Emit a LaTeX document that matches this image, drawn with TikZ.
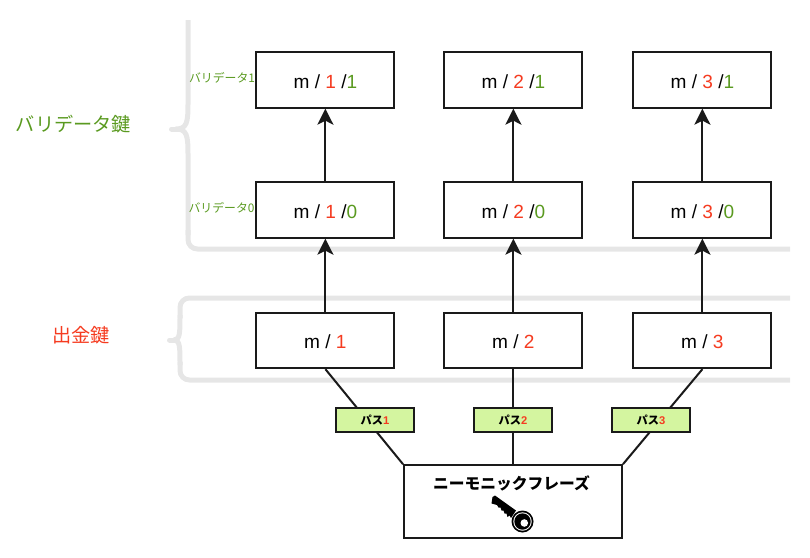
\documentclass[tikz,border=0pt]{standalone}
\usepackage{fontspec}
\setmainfont{Liberation Sans}
\newfontfamily\cjk{Noto Sans CJK JP}
\usetikzlibrary{arrows.meta}

\definecolor{keyred}{HTML}{F53B20}
\definecolor{keygreen}{HTML}{5A9A20}
\definecolor{passfill}{HTML}{D4F5A0}
\definecolor{bracegray}{HTML}{E6E6E6}
\definecolor{linedark}{HTML}{1A1A1A}

\tikzset{
	keybox/.style={draw=linedark,line width=1.5pt,fill=white,inner sep=0pt,
		minimum width=103.5pt,minimum height=41.5pt,text height=12.2pt,text depth=0pt,font=\fontsize{14.3}{16}\selectfont},
	passbox/.style={draw=linedark,line width=1.5pt,fill=passfill,inner sep=0pt,
		minimum width=59pt,minimum height=17.5pt,font=\fontsize{8.4}{10}\selectfont\bfseries},
	bracket/.style={draw=bracegray,line width=3.75pt,rounded corners=7pt,line join=round},
	link/.style={draw=linedark,line width=1.5pt},
	keyarrow/.style={link,-{Stealth[length=12pt,width=12pt,inset=3pt]}},
	sidelabel/.style={inner sep=0pt,font=\fontsize{14.4}{16}\selectfont\cjk},
	smalllabel/.style={inner sep=0pt,text=keygreen,font=\fontsize{8.9}{10}\selectfont\cjk},
}

\newcommand{\rd}[1]{\textcolor{keyred}{#1}}
\newcommand{\gr}[1]{\textcolor{keygreen}{#1}}

\begin{document}
\begin{tikzpicture}[x=0.75pt,y=-0.75pt]
\useasboundingbox (0,0) rectangle (810,557);

% gray brackets
\draw[bracket,sharp corners] (188,20)--(188,104) .. controls (188,122) and (187,129) .. (176,129) .. controls (187,129) and (188,136) .. (188,154)--(188,235);
\draw[bracket] (188,230)--(188,249)--(790,249);
\draw[bracket] (790,298)--(180,298)--(180,318);
\draw[bracket,sharp corners] (180,315) .. controls (180,333) and (180,340) .. (174,340) .. controls (180,340) and (180,347) .. (180,365);
\draw[bracket] (180,362)--(180,380)--(790,380);
\draw[bracket,line cap=round] (171.5,129)--(180,129);
\draw[bracket,line cap=round] (169.5,340)--(176,340);

% one column of keys
\def\keycolumn#1#2{
	\node[keybox] (top#2) at (#1,80) {m / \rd{#2} /\gr{1}};
	\node[keybox] (mid#2) at (#1,210) {m / \rd{#2} /\gr{0}};
	\node[keybox] (low#2) at (#1,340.5) {m / \rd{#2}};
	\draw[keyarrow] (mid#2)--(top#2);
	\draw[keyarrow] (low#2)--(mid#2);
}

\keycolumn{325.4}{1}
\keycolumn{513.4}{2}
\keycolumn{702.4}{3}

\node[draw=linedark,line width=1.5pt,fill=white,minimum width=163.5pt,minimum height=54.5pt,inner sep=0pt] (mnemonic) at (513,501.5) {};
\node[inner sep=0pt,font=\fontsize{11.8}{14}\selectfont\cjk\bfseries] (mnemoniclabel) at (511.5,483) {ニーモニックフレーズ};

\draw[link] (low1.south)--(mnemonic.north west);
\draw[link] (low2.south)--(mnemonic.north-|low2.south);
\draw[link] (low3.south)--(mnemonic.north east);

\node[passbox] (pass1) at (375,420) {{\cjk パス}\rd{1}};
\node[passbox] (pass2) at (513,420) {{\cjk パス}\rd{2}};
\node[passbox] (pass3) at (651,420) {{\cjk パス}\rd{3}};

% key icon
\fill[black] (492.5,497)--(495,495.5)--(516,510.5)--(511,518)--(509.5,515.5)--(507.5,517)--(506.5,513.5)--(504.5,513.5)--(503.5,510.5)--(501.5,510.5)--(500.5,507.5)--(498.5,507.5)--(497,505)--(491.5,503.5)--cycle;
\fill[black] (522.5,521.5) circle (11);
\fill[white] (522.5,521.5) circle (9.2);
\fill[black] (522.5,521.5) circle (8.2);
\fill[white] (524.3,523) circle (3.8);

% labels
\node[smalllabel] (valone) at (222,78) {バリデータ1};
\node[smalllabel] (valzero) at (221.5,208) {バリデータ0};
\node[sidelabel,text=keygreen] (valkey) at (73.5,124) {バリデータ鍵};
\node[sidelabel,text=keyred] (outkey) at (81,335) {出金鍵};

\end{tikzpicture}
\end{document}
